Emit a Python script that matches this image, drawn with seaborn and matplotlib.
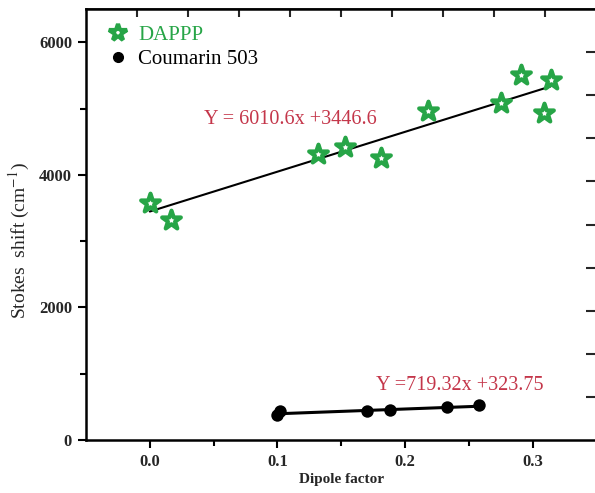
import numpy as np
import pandas as pd
import matplotlib
matplotlib.use("Agg")
import matplotlib.pyplot as plt
import seaborn as sns
from matplotlib.lines import Line2D

# ---- data ----
dappp_x = [0.000, 0.017, 0.1315, 0.153, 0.181, 0.218, 0.275, 0.291, 0.309, 0.314]
dappp_y = [3572, 3316, 4310, 4416, 4250, 4958, 5080, 5501, 4928, 5426]
c503_x = [0.0995, 0.102, 0.170, 0.188, 0.233, 0.258]
c503_y = [377, 437, 437, 452, 497, 527]
dappp_fit = (6010.6, 3446.6)
c503_fit = (719.32, 323.75)
dappp_eq = "Y = 6010.6x +3446.6"
c503_eq = "Y =719.32x +323.75"
xticks = [0.0, 0.1, 0.2, 0.3]
yticks = [0, 2000, 4000, 6000]

sns.set_theme(style="ticks")
plt.rcParams['font.family'] = ['Liberation Serif', 'DejaVu Serif']
plt.rcParams['mathtext.fontset'] = 'stix'

GREEN = '#27a547'
RED = '#c4364a'

fig = plt.figure(figsize=(5.95, 4.93), dpi=100)
ax = fig.add_axes([0.1445, 0.1075, 0.858, 0.874])

df1 = pd.DataFrame({'x': dappp_x, 'y': dappp_y})
df2 = pd.DataFrame({'x': c503_x, 'y': c503_y})

# fit lines
fx1 = np.array([min(dappp_x), max(dappp_x)])
fx2 = np.array([min(c503_x), max(c503_x)])
sns.lineplot(x=fx1, y=dappp_fit[0] * fx1 + dappp_fit[1], ax=ax, color='black', lw=1.5, zorder=2)
sns.lineplot(x=fx2, y=c503_fit[0] * fx2 + c503_fit[1], ax=ax, color='black', lw=2.2, zorder=2)

sns.scatterplot(data=df1, x='x', y='y', ax=ax, marker='*', s=200, facecolor='white',
                edgecolor=GREEN, linewidth=3.0, zorder=3)
sns.scatterplot(data=df2, x='x', y='y', ax=ax, marker='o', s=80, color='black',
                edgecolor='black', linewidth=0, zorder=3)

ax.set_xlim(-0.05, 0.35)
ax.set_ylim(0, 6500)
ax.set_xticks(xticks)
ax.set_xticklabels([f"{v:.1f}" for v in xticks])
ax.set_xticks([0.05, 0.15, 0.25], minor=True)
ax.set_yticks(yticks)
ax.set_yticklabels([str(v) for v in yticks])
ax.set_yticks([1000, 3000, 5000], minor=True)

for lab in ax.get_xticklabels() + ax.get_yticklabels():
    lab.set_fontweight('bold')
    lab.set_fontsize(12)

ax.tick_params(axis='both', which='major', direction='out', length=6, width=1.5, color='black', pad=4)
ax.tick_params(axis='both', which='minor', direction='out', length=4, width=1.5, color='black')
for sp in ax.spines.values():
    sp.set_linewidth(1.8)
    sp.set_color('black')
    sp.set_visible(True)

# top and right secondary ticks
axt = ax.secondary_xaxis('top')
axt.set_xticks([-0.05 + 0.04 * k for k in range(1, 10)])
axt.set_xticklabels([])
axt.tick_params(direction='in', length=6, width=1.5)
axr = ax.secondary_yaxis('right')
axr.set_yticks([650 * k for k in range(1, 10)])
axr.set_yticklabels([])
axr.tick_params(direction='in', length=7, width=1.5)

ax.set_xlabel("Dipole factor", fontsize=11, fontweight='bold', labelpad=2)
ax.set_ylabel("Stokes  shift (cm$^{-1}$)", fontsize=14)
ax.yaxis.set_label_coords(-0.105, 0.462)

ax.text(0.0425, 4840, dappp_eq, color=RED, fontsize=14.5, va='center', ha='left')
ax.text(0.177, 815, c503_eq, color=RED, fontsize=14.5, va='center', ha='left')

handles = [
    Line2D([], [], marker='*', ls='none', markersize=13, markerfacecolor='white',
           markeredgecolor=GREEN, markeredgewidth=3.0),
    Line2D([], [], marker='o', ls='none', markersize=7, color='black'),
]
leg = ax.legend(handles, ['DAPPP', 'Coumarin 503'], loc='upper left', frameon=False,
                fontsize=15, bbox_to_anchor=(0.0, 1.0), handletextpad=0.2,
                labelspacing=0.2, borderaxespad=0.4, handlelength=1.5)
leg.get_texts()[0].set_color(GREEN)
leg.get_texts()[1].set_color('black')

fig.savefig('out.png', dpi=100)
